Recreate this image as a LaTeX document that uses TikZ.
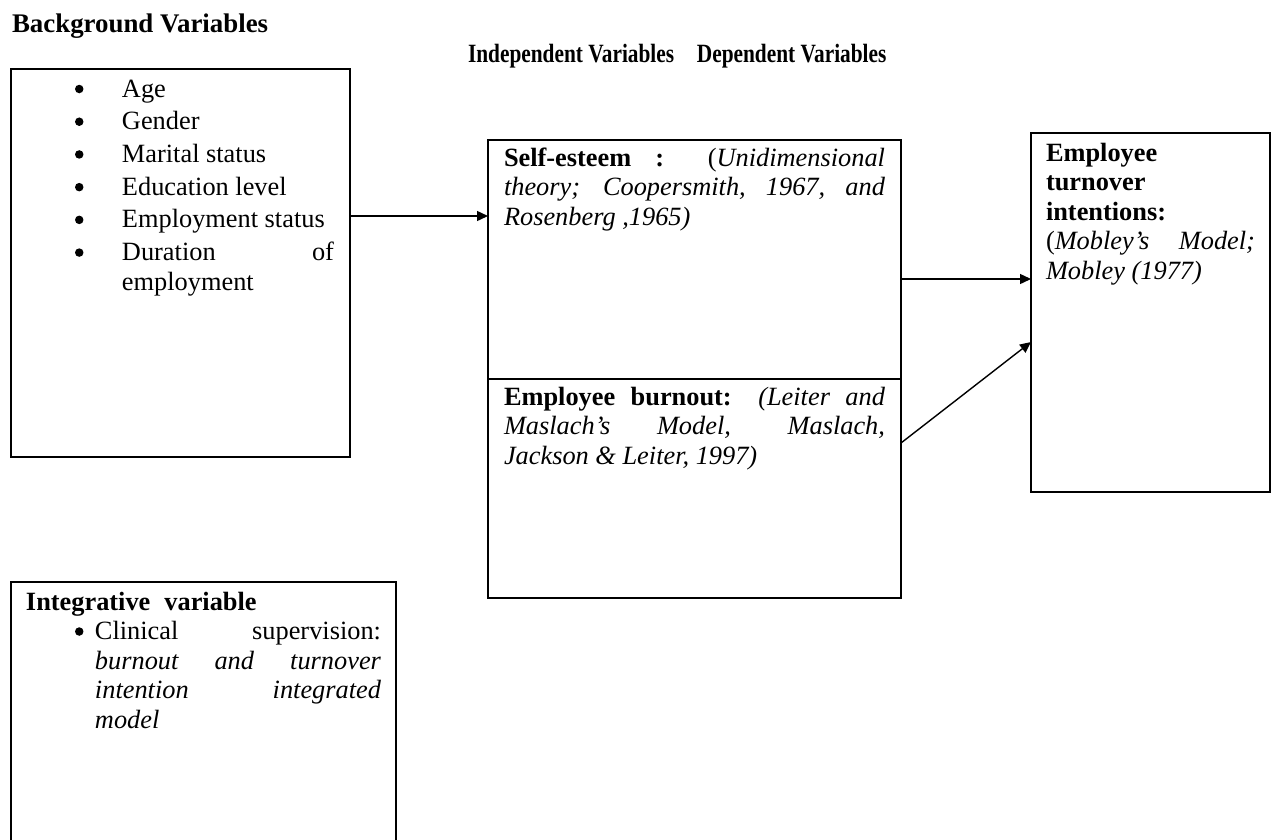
\documentclass[tikz,border=0pt]{standalone}
\usepackage{fontspec}
\setmainfont{Liberation Serif}
\usetikzlibrary{arrows.meta}
\newlength{\du}
\setlength{\du}{0.02cm}
\newlength{\bsep}
\setlength{\bsep}{3.2\du}
% bullet line: #1 bullet offset, #2 text offset, #3 text
\newcommand{\bigdot}{\tikz[baseline=-0.16cm]\fill (0,0) circle (0.085cm);}
\newcommand{\bitem}[3]{\noindent\hangindent=#2\hangafter=1\hspace*{#1}\makebox[\dimexpr#2-#1\relax][l]{\bigdot}#3\par\vspace{\bsep}}

\begin{document}
\begin{tikzpicture}[x=0.02cm,y=-0.02cm,
  every node/.append style={font=\fontsize{15pt}{16.8pt}\selectfont,inner sep=0pt,outer sep=0pt},
  varbox/.style={draw,line width=1.1pt,anchor=north west,align=justify,inner ysep=0pt},
  link/.style={line width=0.8pt,-{Triangle[length=0.22cm,width=0.2cm]}}]
\useasboundingbox (0,0) rectangle (1272,839);
\clip (0,0) rectangle (1272,839);
% headings
\node[anchor=base west,font=\fontsize{15.3pt}{18pt}\selectfont] (bgtitle) at (12,32) {\textbf{Background Variables}};
\node[anchor=base west] (ivtitle) at (468,62) {\scalebox{0.81}[1]{\textbf{Independent Variables\hspace{28\du}Dependent Variables}}};
% background variables
\node[varbox,text width=307\du,inner xsep=16\du,text height=28\du,text depth=360\du] (bg) at (11,69) {%
\bitem{48\du}{95\du}{Age}
\bitem{48\du}{95\du}{Gender}
\bitem{48\du}{95\du}{Marital status}
\bitem{48\du}{95\du}{Education level}
\bitem{48\du}{95\du}{Employment status}
\bitem{48\du}{95\du}{Duration of\linebreak employment}};
% independent variables
\node[varbox,text width=381\du,inner xsep=16\du,text height=26\du,text depth=213\du] (se) at (488,140) {%
\textbf{Self-esteem :} (\textit{Unidimensional\linebreak theory; Coopersmith, 1967, and\linebreak Rosenberg ,1965)}};
\node[varbox,text width=381\du,inner xsep=16\du,text height=26\du,text depth=193\du] (bo) at (488,379) {%
\textbf{Employee burnout:} \textit{(Leiter and\linebreak Maslach’s Model, Maslach,\linebreak Jackson \& Leiter, 1997)}};
% dependent variable
\node[varbox,text width=209\du,inner xsep=15\du,text height=28\du,text depth=331\du] (dv) at (1031,133) {%
\textbf{Employee}\\\textbf{turnover}\\\textbf{intentions:}\\(\textit{Mobley’s Model;}\linebreak \textit{Mobley (1977)}};
% integrative variable
\node[varbox,text width=355\du,inner xsep=15\du,text height=28\du,text depth=300\du] (iv) at (11,582) {%
\textbf{Integrative\hspace{14\du}variable}\par
\bitem{49\du}{69\du}{Clinical supervision:\linebreak \textit{burnout and turnover\linebreak intention integrated\linebreak model}}};
% arrows
\draw[link] (bg.east |- 0,216) -- (se.west |- 0,216);
\draw[link] (se.east |- 0,279) -- (dv.west |- 0,279);
\draw[link] (bo.east |- 0,443) -- (dv.west |- 0,342);
\end{tikzpicture}
\end{document}
